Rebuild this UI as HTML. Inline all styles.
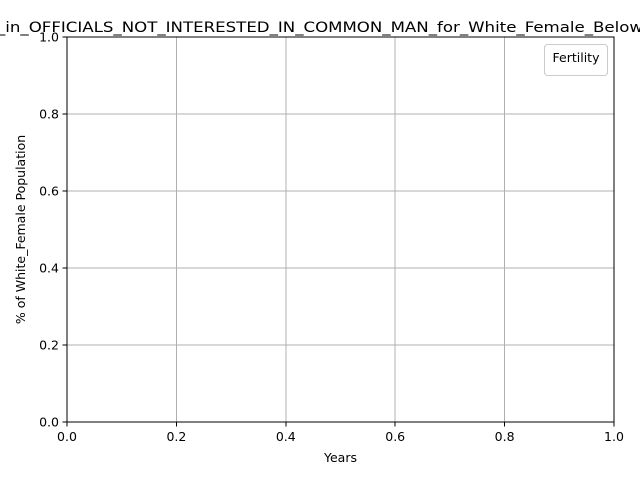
<!DOCTYPE html>
<html><head><meta charset="utf-8"><style>
html,body{margin:0;padding:0;background:#fff;}
svg{display:block;font-family:"DejaVu Sans","Liberation Sans",sans-serif;}
line,rect{shape-rendering:crispEdges;}
</style></head><body>
<svg id="chart" width="640" height="480" xmlns="http://www.w3.org/2000/svg">
<rect width="640" height="480" fill="#fff"/>
<g id="grid"></g>
<g id="ticks"></g>
<g id="series"></g>
<rect x="67" y="37" width="547" height="385" fill="none" stroke="#000" stroke-width="1"/>
<text x="-3" y="32" font-size="13.9" textLength="646" lengthAdjust="spacingAndGlyphs">_in_OFFICIALS_NOT_INTERESTED_IN_COMMON_MAN_for_White_Female_Below</text>
<text x="340.5" y="462" font-size="12.5" text-anchor="middle">Years</text>
<text transform="translate(25,229.5) rotate(-90)" font-size="12.5" text-anchor="middle">% of White_Female Population</text>
<g>
<rect x="544.5" y="44.5" width="63" height="31" rx="3" fill="#fff" stroke="#ccc"/>
<text x="576" y="62" font-size="12.5" text-anchor="middle">Fertility</text>
</g>
</svg>
<script>
const xTicks = [0.0, 0.2, 0.4, 0.6, 0.8, 1.0];
const yTicks = [0.0, 0.2, 0.4, 0.6, 0.8, 1.0];
const years = [];
const values = [];
const L=67,R=614,T=37,B=422;
function xs(v){return L+(v-0)/(1-0)*(R-L);}
function ys(v){return B-(v-0)/(1-0)*(B-T);}
const NS="http://www.w3.org/2000/svg";
const grid=document.getElementById('grid'),ticks=document.getElementById('ticks'),series=document.getElementById('series');
function mk(t,a,p){const e=document.createElementNS(NS,t);for(const k in a)e.setAttribute(k,a[k]);p.appendChild(e);return e;}
xTicks.forEach(v=>{
 const x=xs(v);
 const g=mk('line',{x1:x,x2:x,y1:T,y2:B,stroke:'#b0b0b0','stroke-width':1},grid);
 
 
 const t=mk('line',{x1:x,x2:x,y1:B,y2:B+4.5,stroke:'#000','stroke-width':1},ticks);
 
 
 const l=mk('text',{x:x,y:B+19,'font-size':12.5,'text-anchor':'middle'},ticks);
 l.textContent=v.toFixed(1);
 
 
});
yTicks.forEach(v=>{
 const y=ys(v);
 const g=mk('line',{x1:L,x2:R,y1:y,y2:y,stroke:'#b0b0b0','stroke-width':1},grid);
 
 
 const t=mk('line',{x1:L-4.5,x2:L,y1:y,y2:y,stroke:'#000','stroke-width':1},ticks);
 
 
 const l=mk('text',{x:L-8,y:y+4.5,'font-size':12.5,'text-anchor':'end'},ticks);
 l.textContent=v.toFixed(1);
 
 
});
if(years.length){
 const p=mk('polyline',{points:years.map((yr,i)=>xs(yr)+','+ys(values[i])).join(' '),fill:'none',stroke:'#1f77b4','stroke-width':1.5},series);
 
 
}
</script>
</body></html>
